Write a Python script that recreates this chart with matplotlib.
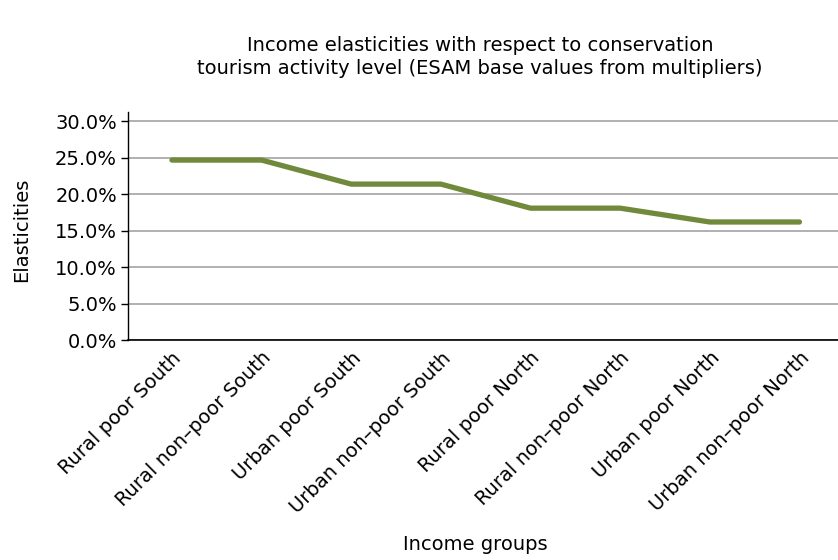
import matplotlib.pyplot as plt
from matplotlib.ticker import PercentFormatter

# Income groups and elasticities (in %)
groups = ['Rural poor South', 'Rural non–poor South', 'Urban poor South',
          'Urban non–poor South', 'Rural poor North', 'Rural non–poor North',
          'Urban poor North', 'Urban non–poor North']
elasticities = [24.7, 24.7, 21.4, 21.4, 18.1, 18.1, 16.2, 16.2]
y_ticks = [0, 5, 10, 15, 20, 25, 30]

fs = 14

fig = plt.figure(figsize=(8.38, 5.6), dpi=100)
ax = fig.add_axes([128 / 838, 1 - 340 / 560, 710 / 838, (340 - 112) / 560])

ax.plot(range(len(groups)), elasticities, color='#71893b', linewidth=3.8,
        solid_capstyle='round', solid_joinstyle='round', zorder=3)

ax.set_xlim(-0.49, 7.43)
ax.set_ylim(0, 31.3)
ax.set_yticks(y_ticks)
ax.yaxis.set_major_formatter(PercentFormatter(decimals=1))
ax.grid(axis='y', color='#aaaaaa', linewidth=1.3)
ax.set_axisbelow(True)

ax.set_xticks(range(len(groups)))
ax.set_xticklabels(groups, rotation=45, ha='right', rotation_mode='anchor',
                   fontsize=fs)
ax.tick_params(axis='x', length=0, pad=6)
ax.tick_params(axis='y', labelsize=fs, length=5, width=1, pad=3)

for side in ['top', 'right']:
    ax.spines[side].set_visible(False)
ax.spines['left'].set_linewidth(1)
ax.spines['bottom'].set_linewidth(1.2)

fig.text(480 / 838, 1 - 57 / 560,
         'Income elasticities with respect to conservation\n'
         'tourism activity level (ESAM base values from multipliers)',
         ha='center', va='center', fontsize=fs, linespacing=1.3)
fig.text(475 / 838, 1 - 545 / 560, 'Income groups', ha='center', va='center',
         fontsize=fs)
fig.text(22 / 838, 1 - 230 / 560, 'Elasticities', ha='center', va='center',
         rotation=90, fontsize=fs)

fig.savefig('out.png', dpi=100)
